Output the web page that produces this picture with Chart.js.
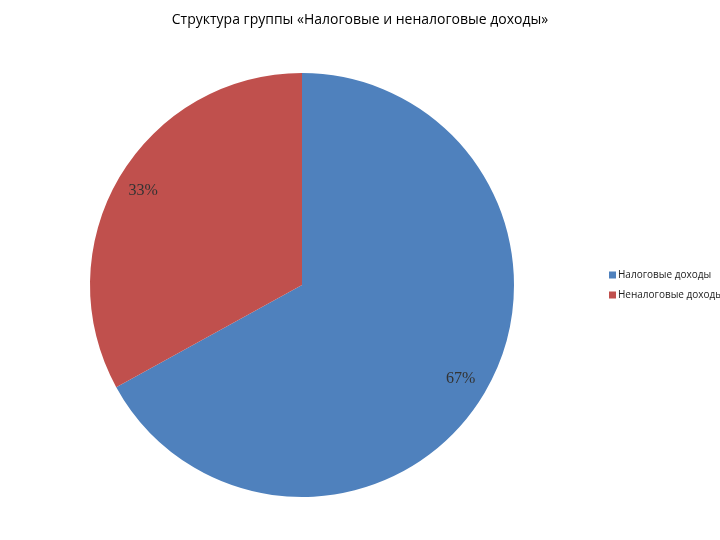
<!DOCTYPE html>
<html>
<head>
<meta charset="utf-8">
<script src="https://cdn.jsdelivr.net/npm/chart.js"></script>
<style>
  body { margin: 0; background: #fff; }
</style>
</head>
<body>
<canvas id="chart" width="720" height="540"></canvas>
<script>
const titleText = 'Структура группы «Налоговые и неналоговые доходы»';
const categories = ['Налоговые доходы', 'Неналоговые доходы'];
const shares = [67, 33];
const colors = ['#4F81BD', '#C0504D'];

// title, percent labels and the legend are drawn here
const decorations = {
    id: 'decorations',
    afterDraw(chart) {
        const ctx = chart.ctx;
        ctx.save();
        ctx.fillStyle = '#000';
        ctx.font = '14px "Open Sans"';
        ctx.textAlign = 'center';
        ctx.textBaseline = 'middle';
        ctx.fillText(titleText, 360, 20);

        const meta = chart.getDatasetMeta(0);
        ctx.font = '16px "Liberation Serif"';
        ctx.fillStyle = '#333';
        meta.data.forEach((arc, i) => {
            const mid = (arc.startAngle + arc.endAngle) / 2;
            const r = arc.outerRadius * 0.87;
            ctx.fillText(shares[i] + '%', arc.x + Math.cos(mid) * r, arc.y + Math.sin(mid) * r);
        });

        ctx.font = '10px "Open Sans"';
        ctx.textAlign = 'left';
        categories.forEach((name, i) => {
            const y = 275 + i * 20;
            ctx.fillStyle = colors[i];
            ctx.fillRect(609, y - 3.5, 7, 7);
            ctx.fillStyle = '#222';
            ctx.fillText(name, 618, y);
        });
        ctx.restore();
    }
};

new Chart(document.getElementById('chart'), {
    type: 'pie',
    data: {
        labels: categories,
        datasets: [{ data: shares, backgroundColor: colors, borderWidth: 0 }]
    },
    options: {
        responsive: false,
        animation: false,
        devicePixelRatio: 1,
        layout: { padding: { left: 90, right: 206, top: 73, bottom: 43 } },
        plugins: { legend: { display: false }, tooltip: { enabled: false } }
    },
    plugins: [decorations]
});
</script>
</body>
</html>
